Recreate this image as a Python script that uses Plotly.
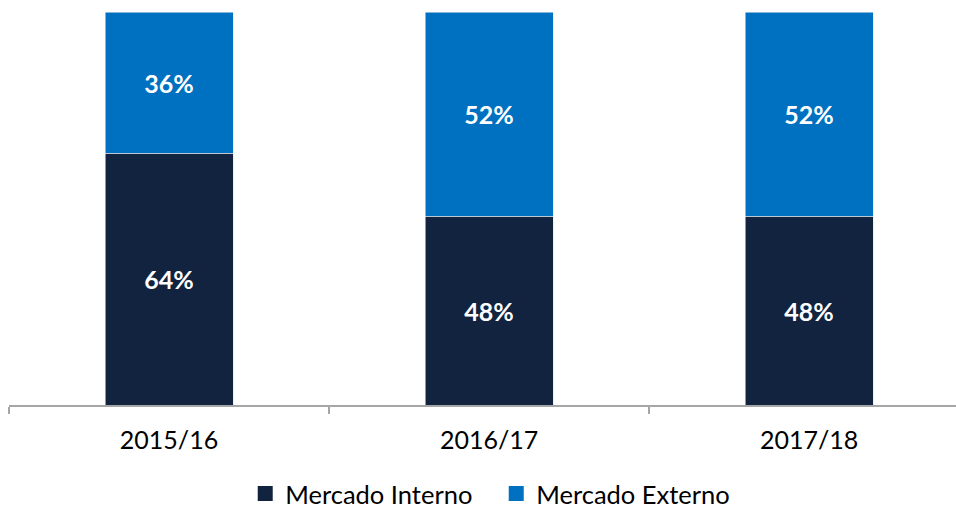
import plotly.graph_objects as go

categories = ["2015/16", "2016/17", "2017/18"]
interno = [64, 48, 48]
externo = [36, 52, 52]
series_names = ["Mercado Interno", "Mercado Externo"]

navy = "#12233F"
blue = "#0070C0"

fig = go.Figure()
for name, vals, col in [(series_names[0], interno, navy), (series_names[1], externo, blue)]:
    fig.add_trace(go.Bar(
        x=categories, y=vals, name=name, showlegend=False,
        marker=dict(color=col, line=dict(color="#DDE6F0", width=0.6)),
        width=0.4,
        text=[f"{v}%" for v in vals],
        textposition="inside", insidetextanchor="middle",
        textfont=dict(family="Lato", size=25, color="white", weight="bold"),
        hoverinfo="skip",
    ))
# legend entries with square symbols
for name, col in [(series_names[0], navy), (series_names[1], blue)]:
    fig.add_trace(go.Scatter(
        x=[None], y=[None], mode="markers", name=name,
        marker=dict(symbol="square", size=15, color=col),
        showlegend=True, hoverinfo="skip",
    ))

fig.update_layout(
    barmode="stack",
    width=956, height=508,
    margin=dict(l=9, r=0, t=12, b=103, autoexpand=False),
    paper_bgcolor="white", plot_bgcolor="white",
    font=dict(family="Lato", size=24, color="#000000"),
    showlegend=True,
    legend=dict(orientation="h", x=0.5145, xanchor="center",
                yref="container", y=14 / 508, yanchor="middle",
                traceorder="normal", font=dict(size=25.5, family="Lato"),
                itemwidth=30, entrywidth=206, entrywidthmode="pixels",
                itemsizing="trace"),
    uniformtext=dict(minsize=8, mode="show"),
)
fig.update_xaxes(
    type="category", range=[-0.5, 2.459], automargin=False,
    showline=True, linecolor="#A6A6A6", linewidth=1.5,
    ticks="outside", tickson="boundaries", ticklen=7, tickcolor="#A6A6A6", tickwidth=1.5,
    showgrid=False, tickfont=dict(size=25, family="Lato"), ticklabelstandoff=12,
)
fig.update_yaxes(range=[0, 100], visible=False, showgrid=False, automargin=False)

fig.write_html("out.html", config={"displayModeBar": False},
               post_script="document.body.style.margin='0';")
